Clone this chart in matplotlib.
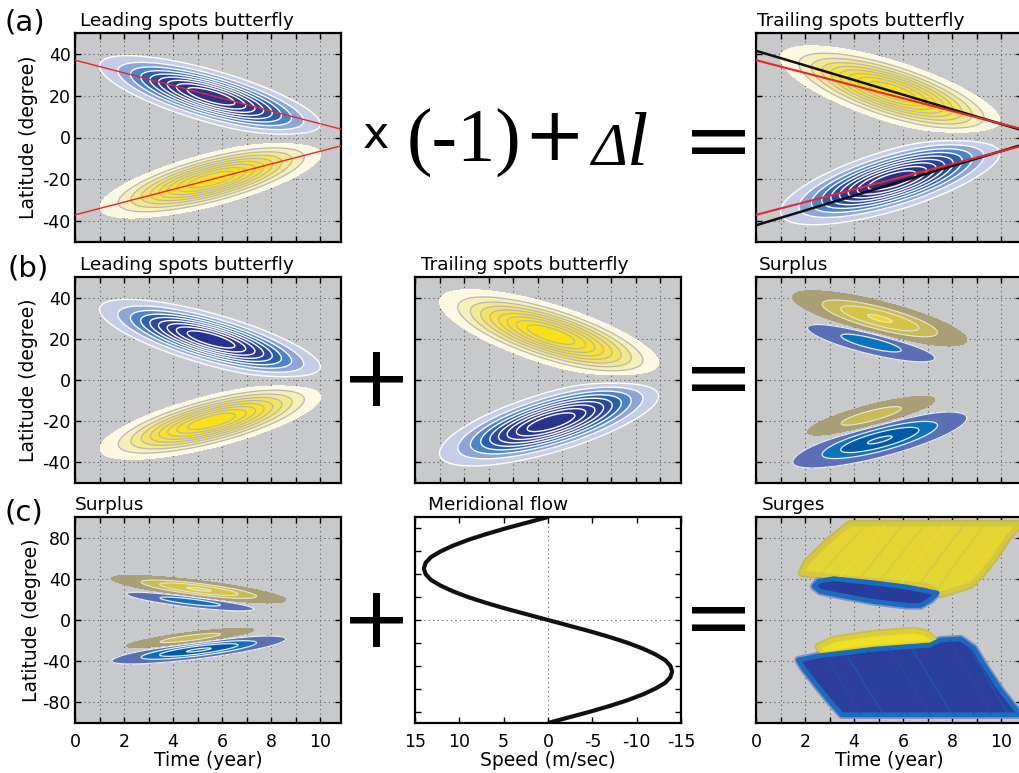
import numpy as np
import matplotlib.pyplot as plt
from matplotlib.patches import Polygon
from matplotlib.ticker import FuncFormatter

plt.rcParams['font.family'] = ['DejaVu Sans']
plt.rcParams['axes.unicode_minus'] = False

# ---- data ----
# butterfly blobs: [t0 (yr), lat0 (deg), drift (deg/yr), sigma_t (yr), sigma_lat (deg), amplitude]
leading_north = [5.55, 19.7, -3.2, 2.12, 6.0, -1.0]
leading_south = [5.57, -20.1, 2.9, 2.12, 6.0, 1.0]
trailing_north = [5.55, 22.0, -3.5, 2.12, 7.0, 1.0]
trailing_south = [5.55, -20.5, 3.3, 2.12, 7.0, -1.0]

# surplus blobs, same layout
surplus_north_pos = [5.05, 29.9, -2.94, 1.58, 3.78, 1.0]
surplus_north_neg = [4.70, 18.0, -2.8, 1.36, 2.93, -0.5]
surplus_south_pos = [4.70, -17.5, 3.0, 1.36, 2.93, 0.5]
surplus_south_neg = [5.05, -29.1, 3.0, 1.58, 3.78, -1.0]

# tilt lines (time, latitude)
line_t = [0, 10.85]
red_north = [37, 4]
red_south = [-37, -4]
black_north = [41.5, 3.5]
black_south = [-42, -3.5]

# meridional flow profile
flow_lat = [90, 85, 80, 75, 70, 65, 60, 55, 50, 45, 40, 35, 30, 25, 20, 15, 10, 5, 0,
            -5, -10, -15, -20, -25, -30, -35, -40, -45, -50, -55, -60, -65, -70, -75, -80, -85, -90]
flow_speed = [0, 2.4, 4.8, 7.0, 9.0, 10.7, 12.1, 13.2, 13.8, 14.0, 13.8, 13.2, 12.1, 10.7, 9.0, 7.0, 4.8, 2.4, 0,
              -2.4, -4.8, -7.0, -9.0, -10.7, -12.1, -13.2, -13.8, -14.0, -13.8, -13.2, -12.1, -10.7, -9.0, -7.0, -4.8, -2.4, 0]

# surges regions (outlines in time / latitude)
surge_n_pos_t = [3.84, 10.73, 10.25, 9.71, 9.16, 8.75, 7.53, 7.39, 6.98, 5.48, 3.44, 1.87, 2.07, 2.89]
surge_n_pos_l = [93, 93, 79.8, 60.3, 44.0, 34.3, 25.2, 27.8, 33.7, 36.9, 41.5, 45.7, 55.4, 74.9]
surge_n_neg_t = [2.37, 2.55, 3.16, 4.8, 6.16, 7.39, 7.12, 6.71, 6.16, 4.8, 3.44, 2.62]
surge_n_neg_l = [32.7, 37.6, 40.1, 36.1, 32.0, 26.1, 19.6, 14.1, 14.1, 18.0, 23.9, 27.8]
surge_s_pos_t = [2.55, 3.16, 4.8, 6.43, 6.91, 7.32, 7.12, 6.16, 4.8, 3.44, 2.75]
surge_s_pos_l = [-25.9, -19.4, -13.6, -10.6, -12.9, -20.4, -22.9, -24.3, -26.8, -30.7, -33.1]
surge_s_neg_t = [1.73, 2.62, 3.44, 4.8, 6.16, 7.12, 7.53, 8.34, 8.89, 9.43, 9.98, 10.46, 10.8, 3.5, 3.03, 2.48, 1.94]
surge_s_neg_l = [-38.9, -34.6, -32.3, -28.4, -25.9, -24.3, -19.4, -18.4, -27.5, -48.7, -68.2, -82.8, -92, -92, -79.5, -63.3, -47.0]

# streaks inside the surges (start time, start lat, end time, end lat)
streak_n_t0 = [2.6, 3.4, 4.2, 5.0, 5.9, 6.6, 7.4, 8.3]
streak_n_l0 = [44, 41, 39, 37, 35, 33, 30, 35]
streak_n_t1 = [4.5, 5.3, 6.0, 6.9, 7.7, 8.5, 9.3, 10.1]
streak_n_l1 = [93, 93, 93, 93, 93, 93, 93, 80]
streak_s_t0 = [2.8, 3.6, 4.5, 5.4, 6.3, 7.2, 7.9, 8.5]
streak_s_l0 = [-33, -30, -28, -26, -25, -22, -19, -19]
streak_s_t1 = [4.3, 5.2, 6.2, 7.1, 8.0, 8.9, 9.6, 10.3]
streak_s_l1 = [-92, -92, -92, -92, -92, -92, -92, -92]

time_ticks = list(range(0, 11))
lat_ticks_50 = [-40, -20, 0, 20, 40]
lat_ticks_100 = [-80, -40, 0, 40, 80]
speed_ticks = [15, 10, 5, 0, -5, -10, -15]

# ---- styles ----
bg = '#c8c9cb'
blue_cols = ['#c6cde6', '#8ea5d8', '#4a84ca', '#2b5fb0', '#2a4aa1', '#293e98', '#283893', '#283590', '#27338e']
yell_cols = ['#fcf8e2', '#f7efb8', '#f5e98c', '#f5e460', '#f6e240', '#f7e12e', '#f8e124', '#f8e11c', '#f9e214']
bf_levels = [0.1, 0.2, 0.3, 0.4, 0.5, 0.6, 0.7, 0.8, 0.9, 1.01]
khaki_cols = ['#a9a077', '#c8bb58', '#d5c546', '#e8d92a']
sblue_cols = ['#5b6fb5', '#0b72bb', '#0059a6', '#1462b2']
sp_levels = [0.08, 0.33, 0.6, 0.95, 1.01]

tg = np.linspace(0, 11, 400)
lg = np.linspace(-100, 100, 600)
T, L = np.meshgrid(tg, lg)


def blob(p):
    t0, l0, s, sa, sc, a = p
    u = T - t0
    v = L - l0 - s * u
    return a * np.exp(-(u ** 2 / (2 * sa ** 2) + v ** 2 / (2 * sc ** 2)))


def draw_field(ax, z, levels, pos_cols, neg_cols, pos_line, neg_line, lw=1.0):
    lev = np.array(levels)
    ax.contourf(T, L, z, levels=lev, colors=pos_cols, zorder=1)
    ax.contourf(T, L, -z, levels=lev, colors=neg_cols, zorder=1)
    ax.contour(T, L, z, levels=lev[1:-1], colors=pos_line, linewidths=lw * 0.9, zorder=2)
    ax.contour(T, L, -z, levels=lev[:-1], colors=neg_line, linewidths=lw, zorder=2)


fig = plt.figure(figsize=(10.2, 7.73), dpi=100)
W, H = 1020.0, 773.0
col_x = [75, 415, 756]
row_y = {'a': (33, 242), 'b': (277, 483), 'c': (517, 723)}
grid_ls = (0, (1, 3))
grid_c = '#5a5a5a'


def new_ax(col, row):
    x0 = col_x[col]
    top, bot = row_y[row]
    return fig.add_axes([x0 / W, 1 - bot / H, 266 / W, (bot - top) / H])


def even_fmt(v, pos):
    return '%d' % v if int(round(v)) % 2 == 0 else ''


def style(ax, ylim, yticks, ylab=False, xlab=False):
    ax.set_facecolor(bg)
    ax.set_xlim(0, 10.85)
    ax.set_ylim(*ylim)
    ax.set_xticks(time_ticks)
    ax.set_yticks(yticks)
    ax.grid(True, linestyle=grid_ls, color=grid_c, linewidth=0.8)
    ax.set_axisbelow(True)
    ax.tick_params(direction='in', length=4, width=1, top=True, right=True,
                   labelsize=12.5, pad=3)
    ax.tick_params(axis='x', pad=7)
    for s in ax.spines.values():
        s.set_linewidth(1.6)
    if not ylab:
        ax.set_yticklabels([])
    if xlab:
        ax.xaxis.set_major_formatter(FuncFormatter(even_fmt))
        ax.set_xlabel('Time (year)', fontsize=13.5, labelpad=0)
    else:
        ax.set_xticklabels([])


def title(ax, text, dx, h):
    ax.text(dx, 1 + 6.5 / h, text, transform=ax.transAxes, fontsize=13.3,
            ha='left', va='baseline')


# ---- row (a) ----
ax = new_ax(0, 'a')
style(ax, (-50, 50), lat_ticks_50, ylab=True)
draw_field(ax, blob(leading_north) + blob(leading_south), bf_levels, yell_cols, blue_cols, '#b8b8b8', 'white')
ax.plot(line_t, red_north, color='#e8262b', lw=1.0, zorder=3)
ax.plot(line_t, red_south, color='#e8262b', lw=1.0, zorder=3)
ax.set_ylabel('Latitude (degree)', fontsize=13.5)
ax.yaxis.set_label_coords(-0.14, 0.5)
title(ax, 'Leading spots butterfly', 0.019, 209)

ax = new_ax(2, 'a')
style(ax, (-50, 50), lat_ticks_50)
draw_field(ax, blob(trailing_north) + blob(trailing_south), bf_levels, yell_cols, blue_cols, '#b8b8b8', 'white')
ax.plot(line_t, black_north, color='#111111', lw=1.8, zorder=3)
ax.plot(line_t, black_south, color='#111111', lw=1.8, zorder=3)
ax.plot(line_t, red_north, color='#e8262b', lw=1.5, zorder=4)
ax.plot(line_t, red_south, color='#e8262b', lw=1.5, zorder=4)
title(ax, 'Trailing spots butterfly', 0.004, 209)

# ---- row (b) ----
ax = new_ax(0, 'b')
style(ax, (-50, 50), lat_ticks_50, ylab=True)
draw_field(ax, blob(leading_north) + blob(leading_south), bf_levels, yell_cols, blue_cols, '#b8b8b8', 'white')
ax.set_ylabel('Latitude (degree)', fontsize=13.5)
ax.yaxis.set_label_coords(-0.14, 0.5)
title(ax, 'Leading spots butterfly', 0.019, 206)

ax = new_ax(1, 'b')
style(ax, (-50, 50), lat_ticks_50)
draw_field(ax, blob(trailing_north) + blob(trailing_south), bf_levels, yell_cols, blue_cols, '#b8b8b8', 'white')
title(ax, 'Trailing spots butterfly', 0.023, 206)

surplus = blob(surplus_north_pos) + blob(surplus_north_neg) + blob(surplus_south_pos) + blob(surplus_south_neg)

ax = new_ax(2, 'b')
style(ax, (-50, 50), lat_ticks_50)
draw_field(ax, surplus, sp_levels, khaki_cols, sblue_cols, '#e4e2d4', '#e8ecf4', lw=0.9)
title(ax, 'Surplus', 0.011, 206)

# ---- row (c) ----
ax = new_ax(0, 'c')
style(ax, (-100, 100), lat_ticks_100, ylab=True, xlab=True)
draw_field(ax, surplus, sp_levels, khaki_cols, sblue_cols, '#e4e2d4', '#e8ecf4', lw=0.9)
ax.set_ylabel('Latitude (degree)', fontsize=13.5)
ax.yaxis.set_label_coords(-0.128, 0.5)
title(ax, 'Surplus', 0.0, 206)

ax = new_ax(1, 'c')
ax.plot(flow_speed, flow_lat, color='#111111', lw=3.0, solid_capstyle='butt')
ax.set_xlim(15, -15)
ax.set_ylim(-90, 90)
ax.set_xticks(speed_ticks)
ax.set_xticklabels([str(v) for v in speed_ticks])
ax.set_yticks(np.arange(-80, 81, 20))
ax.set_yticklabels([])
ax.axvline(0, color=grid_c, lw=0.8, ls=grid_ls, zorder=0)
ax.axhline(0, color=grid_c, lw=0.8, ls=grid_ls, zorder=0)
ax.tick_params(direction='in', length=4, width=1, top=True, right=True, labelsize=12.5, pad=7)
for s in ax.spines.values():
    s.set_linewidth(1.6)
ax.set_xlabel('Speed (m/sec)', fontsize=13.5, labelpad=0)
title(ax, 'Meridional flow', 0.049, 206)

ax = new_ax(2, 'c')
style(ax, (-100, 100), lat_ticks_100, xlab=True)


def region(t_pts, l_pts, outer, mid, inner):
    xy = np.column_stack([t_pts, l_pts])
    ax.add_patch(Polygon(xy, closed=True, facecolor=outer, edgecolor=outer, lw=6,
                         joinstyle='round', zorder=2))
    inside = Polygon(xy, closed=True, facecolor=inner, edgecolor=mid, lw=3.5,
                     joinstyle='round', zorder=3)
    ax.add_patch(inside)
    return inside


def streaks(patch, t0, l0, t1, l1, cols):
    for i in range(len(t0)):
        ln, = ax.plot([t0[i], t1[i]], [l0[i], l1[i]], color=cols[i % len(cols)],
                      lw=1.2, alpha=0.55, zorder=3.5)
        ln.set_clip_path(patch)


p = region(surge_n_pos_t, surge_n_pos_l, '#c4b957', '#d5c83e', '#e3d533')
streaks(p, streak_n_t0, streak_n_l0, streak_n_t1, streak_n_l1, ['#d2c446', '#f0e222', '#cbbf56'])
region(surge_n_neg_t, surge_n_neg_l, '#8190c2', '#1a6cc0', '#283c9a')
region(surge_s_pos_t, surge_s_pos_l, '#c9bd52', '#dccd36', '#eee024')
p = region(surge_s_neg_t, surge_s_neg_l, '#8190c2', '#1a6cc0', '#2a3e9a')
streaks(p, streak_s_t0, streak_s_l0, streak_s_t1, streak_s_l1, ['#2350a8', '#1d62b6', '#2f3f97'])
title(ax, 'Surges', 0.023, 206)

# ---- panel labels and operators ----
for lab, x, y in [('(a)', 5, 23), ('(b)', 7, 269), ('(c)', 5, 513)]:
    fig.text(x / W, 1 - y / H, lab, fontsize=21, ha='left', va='center')

fig.text(376 / W, 1 - 148 / H, 'x', fontsize=32, ha='center', va='baseline')
fig.text(464 / W, 1 - 161 / H, '(-1)', fontsize=55, family='Liberation Serif', ha='center', va='baseline')
fig.text(554 / W, 1 - 160 / H, '+', fontsize=53, ha='center', va='baseline')
fig.text(591 / W, 1 - 165 / H, '\u0394', fontsize=44, family='Liberation Serif', style='italic',
         ha='left', va='baseline')
fig.text(627 / W, 1 - 165 / H, 'l', fontsize=55, family='Liberation Serif', style='italic',
         ha='left', va='baseline')

for (x, y, s) in [(718, 169, '='), (376, 406, '+'), (718, 406, '='), (376, 647, '+'), (718, 646, '=')]:
    fig.text(x / W, 1 - y / H, s, fontsize=61, ha='center', va='baseline')

plt.savefig('out.png', dpi=100)
